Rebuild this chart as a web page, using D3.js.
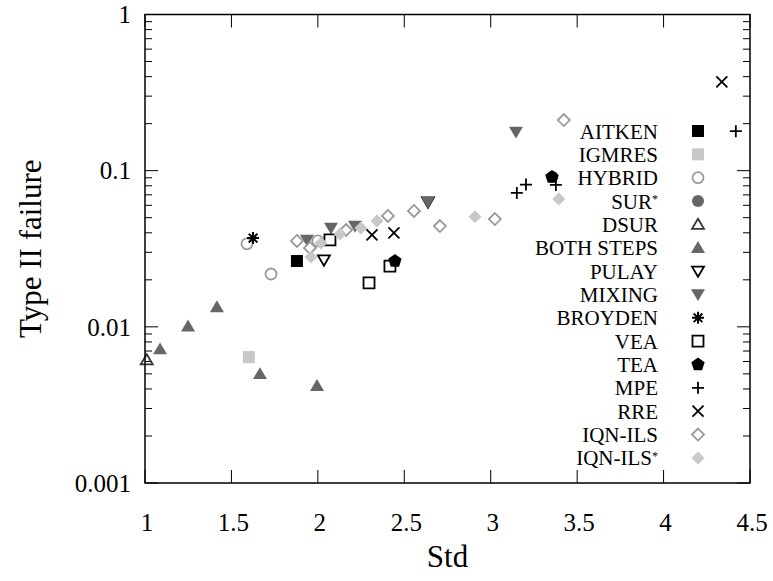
<!DOCTYPE html>
<html>
<head>
<meta charset="utf-8">
<script src="https://cdn.jsdelivr.net/npm/d3@7"></script>
<style>
  html, body { margin: 0; padding: 0; background: #fff; }
  svg { display: block; font-family: "Liberation Serif", "DejaVu Serif", serif; }
</style>
</head>
<body>
<svg id="chart" width="773" height="581"></svg>
<script>
// Std vs. Type II failure rate, one [std, failure] list per method
const AITKEN     = [[1.879, 0.0264]];
const IGMRES     = [[1.601, 0.0064]];
const HYBRID     = [[1.590, 0.0340], [1.729, 0.0218], [2.000, 0.0355]];
const SUR_STAR   = [[3.357, 0.0915]];
const DSUR       = [[1.010, 0.00614]];
const BOTH_STEPS = [[1.087, 0.0072], [1.249, 0.0101], [1.416, 0.0134], [1.665, 0.0050], [1.995, 0.0042]];
const PULAY      = [[2.035, 0.0268], [2.637, 0.0630]];
const MIXING     = [[1.937, 0.0360], [2.076, 0.0430], [2.215, 0.0442], [2.637, 0.0630], [3.146, 0.177]];
const BROYDEN    = [[1.625, 0.0370]];
const VEA        = [[2.070, 0.0360], [2.296, 0.0191], [2.417, 0.0245]];
const TEA        = [[2.446, 0.0264], [3.354, 0.0910]];
const MPE        = [[3.151, 0.0720], [3.204, 0.0814], [3.377, 0.0810], [4.418, 0.179]];
const RRE        = [[2.313, 0.0388], [2.440, 0.0399], [4.337, 0.370]];
const IQN_ILS    = [[1.879, 0.0355], [1.954, 0.0320], [2.163, 0.0417], [2.405, 0.0513], [2.556, 0.0552],
                    [2.706, 0.0442], [3.024, 0.0490], [3.423, 0.211]];
const IQN_ILS_STAR = [[1.960, 0.0280], [2.018, 0.0344], [2.128, 0.0393], [2.249, 0.0430], [2.342, 0.0476],
                      [2.909, 0.0506], [3.394, 0.0659]];

const xTicks = [1, 1.5, 2, 2.5, 3, 3.5, 4, 4.5];
const yTicks = [0.001, 0.01, 0.1, 1];
const xTitle = "Std";
const yTitle = "Type II failure";

// marker shapes drawn around (0,0)
const shapes = {
  square:   s => `M${-s},${-s}H${s}V${s}H${-s}Z`,
  circle:   s => `M${s},0A${s},${s} 0 1,1 ${-s},0A${s},${s} 0 1,1 ${s},0Z`,
  triUp:    s => `M0,${-s*0.95}L${s},${s*0.75}L${-s},${s*0.75}Z`,
  triDown:  s => `M0,${s*0.95}L${s},${-s*0.75}L${-s},${-s*0.75}Z`,
  diamond:  s => `M0,${-s}L${s},0L0,${s}L${-s},0Z`,
  plus:     s => `M${-s},0H${s}M0,${-s}V${s}`,
  times:    s => `M${-s},${-s}L${s},${s}M${-s},${s}L${s},${-s}`,
  asterisk: s => { const d = s*0.72; return `M${-s},0H${s}M0,${-s}V${s}M${-d},${-d}L${d},${d}M${-d},${d}L${d},${-d}`; },
  pentagon: s => d3.range(5).map(i => {
                  const a = -Math.PI/2 + i*2*Math.PI/5;
                  return (i ? "L" : "M") + (s*Math.cos(a)).toFixed(2) + "," + (s*Math.sin(a)).toFixed(2);
                }).join("") + "Z"
};

const series = [
  {name: "AITKEN",     data: AITKEN,       shape: "square",   size: 6,   fill: "#000",    stroke: "none"},
  {name: "IGMRES",     data: IGMRES,       shape: "square",   size: 6,   fill: "#c8c8c8", stroke: "none"},
  {name: "HYBRID",     data: HYBRID,       shape: "circle",   size: 5.5, fill: "none",    stroke: "#999", sw: 1.8},
  {name: "SUR",  sup: "*", data: SUR_STAR, shape: "circle",   size: 6,   fill: "#666",    stroke: "none"},
  {name: "DSUR",       data: DSUR,         shape: "triUp",    size: 6,   fill: "none",    stroke: "#333", sw: 1.8},
  {name: "BOTH STEPS", data: BOTH_STEPS,   shape: "triUp",    size: 7,   fill: "#666",    stroke: "none"},
  {name: "PULAY",      data: PULAY,        shape: "triDown",  size: 6,   fill: "none",    stroke: "#000", sw: 1.8},
  {name: "MIXING",     data: MIXING,       shape: "triDown",  size: 7,   fill: "#666",    stroke: "none"},
  {name: "BROYDEN",    data: BROYDEN,      shape: "asterisk", size: 6,   fill: "none",    stroke: "#000", sw: 2},
  {name: "VEA",        data: VEA,          shape: "square",   size: 5.5, fill: "none",    stroke: "#000", sw: 1.8},
  {name: "TEA",        data: TEA,          shape: "pentagon", size: 7,   fill: "#000",    stroke: "none"},
  {name: "MPE",        data: MPE,          shape: "plus",     size: 6,   fill: "none",    stroke: "#000", sw: 1.8},
  {name: "RRE",        data: RRE,          shape: "times",    size: 5.5, fill: "none",    stroke: "#000", sw: 1.8},
  {name: "IQN-ILS",    data: IQN_ILS,      shape: "diamond",  size: 6,   fill: "none",    stroke: "#999", sw: 1.8},
  {name: "IQN-ILS", sup: "*", data: IQN_ILS_STAR, shape: "diamond", size: 6.5, fill: "#c8c8c8", stroke: "none"}
];

const svg = d3.select("#chart");
const plotLeft = 145, plotRight = 750, plotTop = 14.5, plotBottom = 483;

const x = d3.scaleLinear().domain([1, 4.5]).range([plotLeft, plotRight]);
const y = d3.scaleLog().domain([0.001, 1]).range([plotBottom, plotTop]);

// minor ticks: 2..9 within each decade
const minor = [];
for (let e = -3; e < 0; e++) for (let k = 2; k <= 9; k++) minor.push(k * Math.pow(10, e));

const tickG = svg.append("g").attr("stroke", "#000").attr("stroke-width", 1);
xTicks.forEach(v => {
  tickG.append("line").attr("x1", x(v)).attr("x2", x(v)).attr("y1", plotBottom).attr("y2", plotBottom - 13);
  tickG.append("line").attr("x1", x(v)).attr("x2", x(v)).attr("y1", plotTop).attr("y2", plotTop + 13);
});
yTicks.forEach(v => {
  tickG.append("line").attr("x1", plotLeft).attr("x2", plotLeft + 13).attr("y1", y(v)).attr("y2", y(v));
  tickG.append("line").attr("x1", plotRight).attr("x2", plotRight - 13).attr("y1", y(v)).attr("y2", y(v));
});
minor.forEach(v => {
  tickG.append("line").attr("x1", plotLeft).attr("x2", plotLeft + 7).attr("y1", y(v)).attr("y2", y(v));
  tickG.append("line").attr("x1", plotRight).attr("x2", plotRight - 7).attr("y1", y(v)).attr("y2", y(v));
});

// tick labels
svg.append("g").selectAll("text").data(xTicks).join("text")
  .attr("x", d => x(d) + 2).attr("y", 531)
  .attr("text-anchor", "middle").attr("font-size", 25).attr("fill", "#000")
  .text(d => d3.format("")(d));
svg.append("g").selectAll("text").data(yTicks).join("text")
  .attr("x", plotLeft - 14).attr("y", d => y(d)).attr("dy", "0.35em")
  .attr("text-anchor", "end").attr("font-size", 25).attr("fill", "#000")
  .text(d => d3.format("")(d));

// axis titles
svg.append("text").attr("x", (plotLeft + plotRight) / 2).attr("y", 567)
  .attr("text-anchor", "middle").attr("font-size", 31).text(xTitle);
svg.append("text").attr("transform", `translate(41,${(plotTop + plotBottom) / 2}) rotate(-90)`)
  .attr("text-anchor", "middle").attr("font-size", 31).text(yTitle);

// data markers
const plot = svg.append("g");
series.forEach(s => {
  plot.append("g").selectAll("path").data(s.data).join("path")
    .attr("transform", d => `translate(${x(d[0])},${y(d[1])})`)
    .attr("d", shapes[s.shape](s.size))
    .attr("fill", s.fill).attr("stroke", s.stroke).attr("stroke-width", s.sw || 0);
});

// legend
const legend = svg.append("g");
const legTop = 131, legStep = 23.35, legTextX = 658, legSymX = 698;
series.forEach((s, i) => {
  const cy = legTop + i * legStep;
  const t = legend.append("text").attr("x", legTextX).attr("y", cy).attr("dy", "0.36em")
    .attr("text-anchor", "end").attr("font-size", 21).attr("fill", "#000");
  t.append("tspan").text(s.name);
  if (s.sup) t.append("tspan").attr("font-size", 12).attr("dy", "-0.45em").text(s.sup);
  legend.append("path")
    .attr("transform", `translate(${legSymX},${cy})`)
    .attr("d", shapes[s.shape](s.size))
    .attr("fill", s.fill).attr("stroke", s.stroke).attr("stroke-width", s.sw || 0);
});

// frame
svg.append("rect").attr("x", plotLeft).attr("y", plotTop).attr("width", plotRight - plotLeft).attr("height", plotBottom - plotTop)
  .attr("fill", "none").attr("stroke", "#000").attr("stroke-width", 1.5);
</script>
</body>
</html>
